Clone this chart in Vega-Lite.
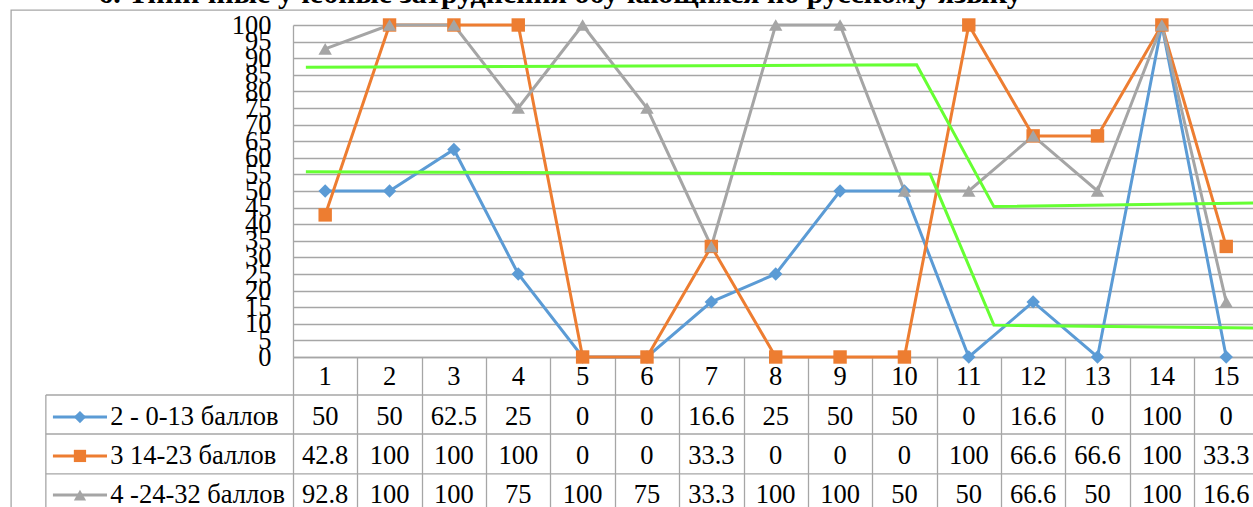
{
  "$schema": "https://vega.github.io/schema/vega-lite/v6.json",
  "width": 960,
  "height": 332,
  "autosize": {"type": "none"},
  "padding": {"left": 293, "top": 25, "right": 0, "bottom": 150},
  "background": "white",
  "title": {
    "text": "6. Типичные учебные затруднения обучающихся по русскому языку",
    "font": "Liberation Serif, Times New Roman, serif",
    "fontSize": 30,
    "fontWeight": "bold",
    "color": "black",
    "anchor": "middle",
    "frame": "group",
    "dx": -213,
    "dy": 14,
    "offset": 14
  },
  "resolve": {"axis": {"x": "independent", "y": "independent"}},
  "config": {
    "view": {"stroke": null},
    "font": "Liberation Serif, Times New Roman, serif",
    "text": {"font": "Liberation Serif, Times New Roman, serif", "fontSize": 26.5, "color": "black"},
    "axis": {"labelFont": "Liberation Serif, Times New Roman, serif", "labelFontSize": 26.5, "labelColor": "black"}
  },
  "datasets": {
    "main": [
      {"s": "2 - 0-13 баллов", "x": 1, "v": 50},
      {"s": "2 - 0-13 баллов", "x": 2, "v": 50},
      {"s": "2 - 0-13 баллов", "x": 3, "v": 62.5},
      {"s": "2 - 0-13 баллов", "x": 4, "v": 25},
      {"s": "2 - 0-13 баллов", "x": 5, "v": 0},
      {"s": "2 - 0-13 баллов", "x": 6, "v": 0},
      {"s": "2 - 0-13 баллов", "x": 7, "v": 16.6},
      {"s": "2 - 0-13 баллов", "x": 8, "v": 25},
      {"s": "2 - 0-13 баллов", "x": 9, "v": 50},
      {"s": "2 - 0-13 баллов", "x": 10, "v": 50},
      {"s": "2 - 0-13 баллов", "x": 11, "v": 0},
      {"s": "2 - 0-13 баллов", "x": 12, "v": 16.6},
      {"s": "2 - 0-13 баллов", "x": 13, "v": 0},
      {"s": "2 - 0-13 баллов", "x": 14, "v": 100},
      {"s": "2 - 0-13 баллов", "x": 15, "v": 0},
      {"s": "3 14-23 баллов", "x": 1, "v": 42.8},
      {"s": "3 14-23 баллов", "x": 2, "v": 100},
      {"s": "3 14-23 баллов", "x": 3, "v": 100},
      {"s": "3 14-23 баллов", "x": 4, "v": 100},
      {"s": "3 14-23 баллов", "x": 5, "v": 0},
      {"s": "3 14-23 баллов", "x": 6, "v": 0},
      {"s": "3 14-23 баллов", "x": 7, "v": 33.3},
      {"s": "3 14-23 баллов", "x": 8, "v": 0},
      {"s": "3 14-23 баллов", "x": 9, "v": 0},
      {"s": "3 14-23 баллов", "x": 10, "v": 0},
      {"s": "3 14-23 баллов", "x": 11, "v": 100},
      {"s": "3 14-23 баллов", "x": 12, "v": 66.6},
      {"s": "3 14-23 баллов", "x": 13, "v": 66.6},
      {"s": "3 14-23 баллов", "x": 14, "v": 100},
      {"s": "3 14-23 баллов", "x": 15, "v": 33.3},
      {"s": "4 -24-32 баллов", "x": 1, "v": 92.8},
      {"s": "4 -24-32 баллов", "x": 2, "v": 100},
      {"s": "4 -24-32 баллов", "x": 3, "v": 100},
      {"s": "4 -24-32 баллов", "x": 4, "v": 75},
      {"s": "4 -24-32 баллов", "x": 5, "v": 100},
      {"s": "4 -24-32 баллов", "x": 6, "v": 75},
      {"s": "4 -24-32 баллов", "x": 7, "v": 33.3},
      {"s": "4 -24-32 баллов", "x": 8, "v": 100},
      {"s": "4 -24-32 баллов", "x": 9, "v": 100},
      {"s": "4 -24-32 баллов", "x": 10, "v": 50},
      {"s": "4 -24-32 баллов", "x": 11, "v": 50},
      {"s": "4 -24-32 баллов", "x": 12, "v": 66.6},
      {"s": "4 -24-32 баллов", "x": 13, "v": 50},
      {"s": "4 -24-32 баллов", "x": 14, "v": 100},
      {"s": "4 -24-32 баллов", "x": 15, "v": 16.6}
    ],
    "green": [
      {"g": "upper", "i": 1, "x": 0.70, "y": 87.3},
      {"g": "upper", "i": 2, "x": 10.19, "y": 88.0},
      {"g": "upper", "i": 3, "x": 11.39, "y": 45.3},
      {"g": "upper", "i": 4, "x": 15.5, "y": 46.4},
      {"g": "lower", "i": 1, "x": 0.70, "y": 55.8},
      {"g": "lower", "i": 2, "x": 10.40, "y": 55.1},
      {"g": "lower", "i": 3, "x": 11.39, "y": 9.6},
      {"g": "lower", "i": 4, "x": 15.5, "y": 8.7}
    ]
  },
  "layer": [
    {
      "data": {"name": "main"},
      "mark": {"type": "line", "strokeWidth": 3},
      "encoding": {
        "x": {
          "field": "x", "type": "quantitative",
          "scale": {"domain": [0.5, 15.416], "nice": false, "zero": false},
          "axis": {
            "orient": "bottom", "values": [0.5, 1.5, 2.5, 3.5, 4.5, 5.5, 6.5, 7.5, 8.5, 9.5, 10.5, 11.5, 12.5, 13.5, 14.5],
            "labels": false, "ticks": true, "tickSize": 160, "tickColor": "#a6a6a6", "tickWidth": 1.3,
            "domain": true, "domainColor": "#a6a6a6", "domainWidth": 1.3, "grid": false, "title": null
          }
        },
        "y": {
          "field": "v", "type": "quantitative",
          "scale": {"domain": [0, 100], "nice": false, "zero": false},
          "axis": {
            "values": [0, 5, 10, 15, 20, 25, 30, 35, 40, 45, 50, 55, 60, 65, 70, 75, 80, 85, 90, 95, 100],
            "labelFont": "Liberation Serif, Times New Roman, serif", "labelFontSize": 26.5, "labelColor": "black",
            "labelPadding": 22, "labelOverlap": false, "labelFlush": false, "labelBaseline": "middle",
            "ticks": false, "domain": true, "domainColor": "#a6a6a6", "domainWidth": 1.3,
            "grid": true, "gridColor": "#a6a6a6", "gridWidth": 1.3, "title": null
          }
        },
        "color": {
          "field": "s", "type": "nominal",
          "scale": {"domain": ["2 - 0-13 баллов", "3 14-23 баллов", "4 -24-32 баллов"], "range": ["#5b9bd5", "#ed7d31", "#a5a5a5"]},
          "legend": null
        },
        "order": {"field": "x", "type": "quantitative"}
      }
    },
    {
      "data": {"name": "main"},
      "mark": {"type": "point", "filled": true, "opacity": 1, "size": 180},
      "encoding": {
        "x": {"field": "x", "type": "quantitative", "axis": null},
        "y": {"field": "v", "type": "quantitative", "axis": null},
        "color": {"field": "s", "type": "nominal", "legend": null},
        "shape": {
          "field": "s", "type": "nominal",
          "scale": {"domain": ["2 - 0-13 баллов", "3 14-23 баллов", "4 -24-32 баллов"], "range": ["diamond", "square", "triangle-up"]},
          "legend": null
        }
      }
    },
    {
      "data": {"values": [{}]},
      "mark": {"type": "rect", "fill": "transparent", "stroke": "#a6a6a6", "strokeWidth": 1.3},
      "encoding": {
        "x": {"datum": -3.88, "axis": null},
        "x2": {"datum": 20},
        "y": {"datum": 104.5, "axis": null},
        "y2": {"datum": -80}
      }
    },
    {
      "data": {"values": [{}]},
      "layer": [
        {"mark": {"type": "rule", "color": "#a6a6a6", "strokeWidth": 1.3}, "encoding": {"x": {"datum": -3.34, "axis": null}, "x2": {"datum": 15.5}, "y": {"datum": -11.45, "axis": null}}},
        {"mark": {"type": "rule", "color": "#a6a6a6", "strokeWidth": 1.3}, "encoding": {"x": {"datum": -3.34, "axis": null}, "x2": {"datum": 15.5}, "y": {"datum": -23.2, "axis": null}}},
        {"mark": {"type": "rule", "color": "#a6a6a6", "strokeWidth": 1.3}, "encoding": {"x": {"datum": -3.34, "axis": null}, "x2": {"datum": 15.5}, "y": {"datum": -35.2, "axis": null}}},
        {"mark": {"type": "rule", "color": "#a6a6a6", "strokeWidth": 1.3}, "encoding": {"x": {"datum": -3.34, "axis": null}, "y": {"datum": -11.45, "axis": null}, "y2": {"datum": -60}}}
      ]
    },
    {
      "data": {"name": "green"},
      "mark": {"type": "line", "strokeWidth": 3, "color": "#66ff33"},
      "encoding": {
        "x": {"field": "x", "type": "quantitative", "axis": null},
        "y": {"field": "y", "type": "quantitative", "axis": null},
        "detail": {"field": "g", "type": "nominal"},
        "order": {"field": "i", "type": "quantitative"}
      }
    },
    {
      "data": {"name": "main"},
      "transform": [{"filter": "datum.s == '2 - 0-13 баллов'"}],
      "mark": {"type": "text", "align": "center", "baseline": "middle", "font": "Liberation Serif, Times New Roman, serif", "fontSize": 26.5, "color": "black"},
      "encoding": {
        "x": {"field": "x", "type": "quantitative", "axis": null},
        "y": {"datum": -6.0, "axis": null},
        "text": {"field": "x", "type": "nominal"}
      }
    },
    {
      "data": {"name": "main"},
      "transform": [{"filter": "datum.s == '2 - 0-13 баллов'"}],
      "layer": [
        {"mark": {"type": "text", "align": "center", "baseline": "middle", "font": "Liberation Serif, Times New Roman, serif", "fontSize": 26.5, "color": "black"}, "encoding": {"x": {"field": "x", "type": "quantitative", "axis": null}, "y": {"datum": -18.1, "axis": null}, "text": {"field": "v", "type": "nominal"}}},
        {"transform": [{"filter": "datum.x == 1"}], "mark": {"type": "rule", "color": "#5b9bd5", "strokeWidth": 3}, "encoding": {"x": {"datum": -3.23, "axis": null}, "x2": {"datum": -2.39}, "y": {"datum": -18.1, "axis": null}}},
        {"transform": [{"filter": "datum.x == 1"}], "mark": {"type": "point", "shape": "diamond", "filled": true, "opacity": 1, "size": 150, "color": "#5b9bd5"}, "encoding": {"x": {"datum": -2.81, "axis": null}, "y": {"datum": -18.1, "axis": null}}},
        {"transform": [{"filter": "datum.x == 1"}], "mark": {"type": "text", "align": "left", "baseline": "middle", "font": "Liberation Serif, Times New Roman, serif", "fontSize": 26.5, "color": "black"}, "encoding": {"x": {"datum": -2.34, "axis": null}, "y": {"datum": -18.1, "axis": null}, "text": {"field": "s", "type": "nominal"}}}
      ]
    },
    {
      "data": {"name": "main"},
      "transform": [{"filter": "datum.s == '3 14-23 баллов'"}],
      "layer": [
        {"mark": {"type": "text", "align": "center", "baseline": "middle", "font": "Liberation Serif, Times New Roman, serif", "fontSize": 26.5, "color": "black"}, "encoding": {"x": {"field": "x", "type": "quantitative", "axis": null}, "y": {"datum": -29.8, "axis": null}, "text": {"field": "v", "type": "nominal"}}},
        {"transform": [{"filter": "datum.x == 1"}], "mark": {"type": "rule", "color": "#ed7d31", "strokeWidth": 3}, "encoding": {"x": {"datum": -3.23, "axis": null}, "x2": {"datum": -2.39}, "y": {"datum": -29.8, "axis": null}}},
        {"transform": [{"filter": "datum.x == 1"}], "mark": {"type": "point", "shape": "square", "filled": true, "opacity": 1, "size": 150, "color": "#ed7d31"}, "encoding": {"x": {"datum": -2.81, "axis": null}, "y": {"datum": -29.8, "axis": null}}},
        {"transform": [{"filter": "datum.x == 1"}], "mark": {"type": "text", "align": "left", "baseline": "middle", "font": "Liberation Serif, Times New Roman, serif", "fontSize": 26.5, "color": "black"}, "encoding": {"x": {"datum": -2.34, "axis": null}, "y": {"datum": -29.8, "axis": null}, "text": {"field": "s", "type": "nominal"}}}
      ]
    },
    {
      "data": {"name": "main"},
      "transform": [{"filter": "datum.s == '4 -24-32 баллов'"}],
      "layer": [
        {"mark": {"type": "text", "align": "center", "baseline": "middle", "font": "Liberation Serif, Times New Roman, serif", "fontSize": 26.5, "color": "black"}, "encoding": {"x": {"field": "x", "type": "quantitative", "axis": null}, "y": {"datum": -41.6, "axis": null}, "text": {"field": "v", "type": "nominal"}}},
        {"transform": [{"filter": "datum.x == 1"}], "mark": {"type": "rule", "color": "#a5a5a5", "strokeWidth": 3}, "encoding": {"x": {"datum": -3.23, "axis": null}, "x2": {"datum": -2.39}, "y": {"datum": -41.6, "axis": null}}},
        {"transform": [{"filter": "datum.x == 1"}], "mark": {"type": "point", "shape": "triangle-up", "filled": true, "opacity": 1, "size": 150, "color": "#a5a5a5"}, "encoding": {"x": {"datum": -2.81, "axis": null}, "y": {"datum": -41.6, "axis": null}}},
        {"transform": [{"filter": "datum.x == 1"}], "mark": {"type": "text", "align": "left", "baseline": "middle", "font": "Liberation Serif, Times New Roman, serif", "fontSize": 26.5, "color": "black"}, "encoding": {"x": {"datum": -2.34, "axis": null}, "y": {"datum": -41.6, "axis": null}, "text": {"field": "s", "type": "nominal"}}}
      ]
    }
  ]
}
